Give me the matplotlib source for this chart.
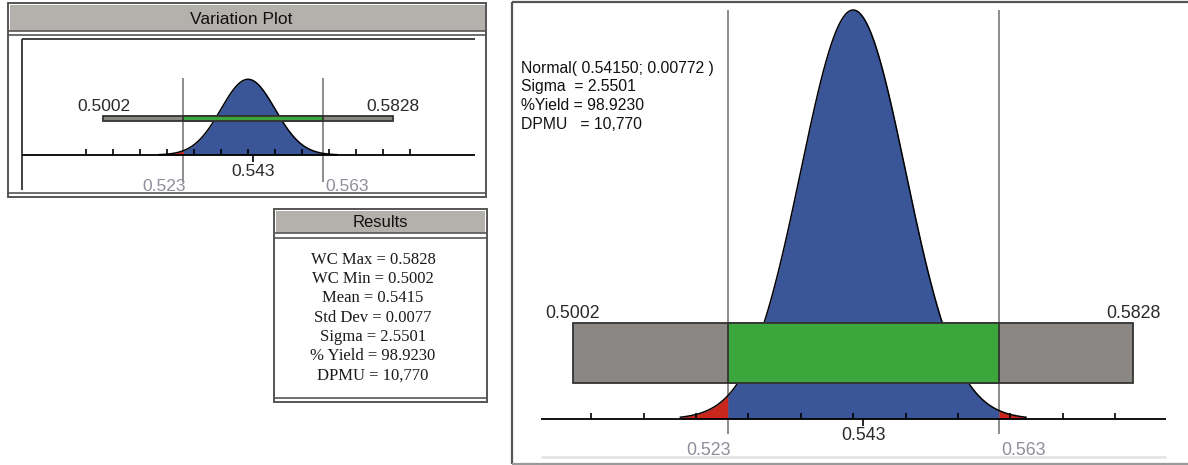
import numpy as np
import matplotlib.pyplot as plt
from matplotlib.patches import Rectangle

plt.rcParams['font.family'] = ['Liberation Sans', 'DejaVu Sans']

# stack-up result
mean = 0.5415
std_dev = 0.00772
lsl = 0.523
usl = 0.563
nominal = 0.543
wc_min = 0.5002
wc_max = 0.5828
sigma = 2.5501
pct_yield = 98.9230
dpmu = 10770

result_names = ["WC Max", "WC Min", "Mean", "Std Dev", "Sigma", "% Yield", "DPMU"]
result_values = [f"{wc_max:.4f}", f"{wc_min:.4f}", f"{mean:.4f}", f"{std_dev:.4f}",
                 f"{sigma:.4f}", f"{pct_yield:.4f}", f"{dpmu:,}"]

info_lines = [f"Normal( {mean:.5f}; {std_dev:.5f} )",
              f"Sigma  = {sigma:.4f}",
              f"%Yield = {pct_yield:.4f}",
              f"DPMU   = {dpmu:,}"]

W, H = 1188, 465
BLUE = '#3a5598'
RED = '#c9261c'
GREEN = '#3ba63b'
BAR_GRAY = '#8b8784'
LINE_GRAY = '#8c8c8c'
LABEL_GRAY = '#8e8e9c'
TITLE_GRAY = '#b4b0ac'
FRAME = '#555555'

fig = plt.figure(figsize=(W / 100, H / 100), dpi=100)
bg = fig.add_axes([0, 0, 1, 1])
bg.set_xlim(0, W)
bg.set_ylim(H, 0)
bg.axis('off')


def px_axes(x0, y0, x1, y1):
    a = fig.add_axes([x0 / W, 1 - y1 / H, (x1 - x0) / W, (y1 - y0) / H])
    a.axis('off')
    a.patch.set_alpha(0)
    return a


def variation_plot(ax, box, lsl_px, scale, base_y, peak_y, bar_y, line_y,
                   axis_span, lab_y, fs, tick_len):
    left, top, right, bottom = box
    ax.set_xlim(lsl - (lsl_px - left) / scale, lsl + (right - lsl_px) / scale)
    ax.set_ylim(bottom, top)

    # distribution curve, blue inside the limits and red outside
    x = np.linspace(mean - 3.3 * std_dev, mean + 3.3 * std_dev, 600)
    x = np.union1d(x, [lsl, usl])
    y = base_y - (base_y - peak_y) * np.exp(-0.5 * ((x - mean) / std_dev) ** 2)
    ax.fill_between(x, y, base_y, where=(x >= lsl) & (x <= usl), color=BLUE, lw=0, zorder=2)
    ax.fill_between(x, y, base_y, where=x <= lsl, color=RED, lw=0, zorder=2)
    ax.fill_between(x, y, base_y, where=x >= usl, color=RED, lw=0, zorder=2)
    ax.plot(x, y, color='black', lw=1.1, zorder=3)

    # axis with sigma ticks
    x0 = ax.get_xlim()[0] + (axis_span[0] - left) / scale
    x1 = ax.get_xlim()[0] + (axis_span[1] - left) / scale
    ax.hlines(base_y, x0, x1, color='black', lw=1.3, zorder=4)
    ticks = [mean + k * std_dev for k in range(-6, 7)]
    ticks = [t for t in ticks if x0 - 1e-9 <= t < x1 - 2 / scale]
    ax.vlines(ticks, base_y - tick_len, base_y, color='black', lw=1.2, zorder=4)
    ax.vlines(nominal, base_y, base_y + tick_len + 1, color='black', lw=1.2, zorder=4)

    # spec limit lines
    ax.vlines([lsl, usl], line_y[0], line_y[1], color=LINE_GRAY, lw=1.4, zorder=1)

    # worst case bar
    ax.add_patch(Rectangle((wc_min, bar_y[0]), wc_max - wc_min, bar_y[1] - bar_y[0],
                           fc=BAR_GRAY, ec='#333333', lw=1.3, zorder=5))
    ax.add_patch(Rectangle((lsl, bar_y[0]), usl - lsl, bar_y[1] - bar_y[0],
                           fc=GREEN, ec='#333333', lw=1.3, zorder=6))

    ax.text(wc_min, lab_y[0], f"{wc_min:.4f}", ha='center', va='center',
            fontsize=fs, color='#2a2a2a')
    ax.text(wc_max, lab_y[0], f"{wc_max:.4f}", ha='center', va='center',
            fontsize=fs, color='#2a2a2a')
    ax.text(nominal, lab_y[1], f"{nominal:.3f}", ha='center', va='center',
            fontsize=fs, color='#2a2a2a')
    ax.text(lsl + 3 / scale, lab_y[2], f"{lsl:.3f}", ha='right', va='center',
            fontsize=fs, color=LABEL_GRAY)
    ax.text(usl + 2 / scale, lab_y[2], f"{usl:.3f}", ha='left', va='center',
            fontsize=fs, color=LABEL_GRAY)


# ---- left: small variation plot panel ----
bg.add_patch(Rectangle((8, 3.5), 478, 193.5, fc='white', ec=FRAME, lw=1.4))
bg.add_patch(Rectangle((9.5, 5), 475, 26, fc=TITLE_GRAY, ec='none'))
bg.hlines([31.5, 35.5, 193], 8, 486, color=FRAME, lw=1.2)
bg.text(241, 19, "Variation Plot", ha='center', va='center', fontsize=12.5, color='#111111')
bg.vlines(21.7, 39, 190, color='#333333', lw=1.3)
bg.hlines(39, 21.7, 475, color='#333333', lw=1.3)

ax_left = px_axes(21.7, 39, 475, 190)
variation_plot(ax_left, (21.7, 39, 475, 190), lsl_px=183.3, scale=3500,
               base_y=155, peak_y=79.3, bar_y=(115.5, 120.5), line_y=(78, 182),
               axis_span=(21.7, 475), lab_y=(106, 171.5, 186), fs=12.5, tick_len=6)

# ---- results box ----
bg.add_patch(Rectangle((274, 209), 212.5, 192.5, fc='white', ec=FRAME, lw=1.4))
bg.add_patch(Rectangle((275.5, 210.5), 209.5, 22, fc=TITLE_GRAY, ec='none'))
bg.hlines([233, 237.5, 397.5], 274, 486.5, color=FRAME, lw=1.2)
bg.text(380, 222, "Results", ha='center', va='center', fontsize=12, color='#111111')
for i, (name, val) in enumerate(zip(result_names, result_values)):
    bg.text(373, 260 + 19.2 * i, f"{name} = {val}", ha='center', va='center',
            fontsize=12, family='Liberation Serif', color='#1a1a1a')

# ---- right: large variation plot panel ----
bg.vlines(511.5, 2, 464, color=FRAME, lw=1.6)
bg.hlines(2.5, 511.5, W, color=FRAME, lw=1.6)
bg.hlines(463.5, 511.5, W, color='#9a9a9a', lw=1.6)
bg.hlines(456.7, 540.7, 1166, color='#e2e2e2', lw=1.8)

ax_right = px_axes(512, 3, W, 463)
variation_plot(ax_right, (512, 3, W, 463), lsl_px=727.7, scale=6782.5,
               base_y=419, peak_y=10, bar_y=(323.5, 383.5), line_y=(10, 434),
               axis_span=(540.7, 1166), lab_y=(313, 435, 450), fs=12.8, tick_len=6)

for i, line in enumerate(info_lines):
    bg.text(521, 68 + 18.7 * i, line, ha='left', va='center', fontsize=11.3, color='#111111')

fig.savefig('out.png', dpi=100)
